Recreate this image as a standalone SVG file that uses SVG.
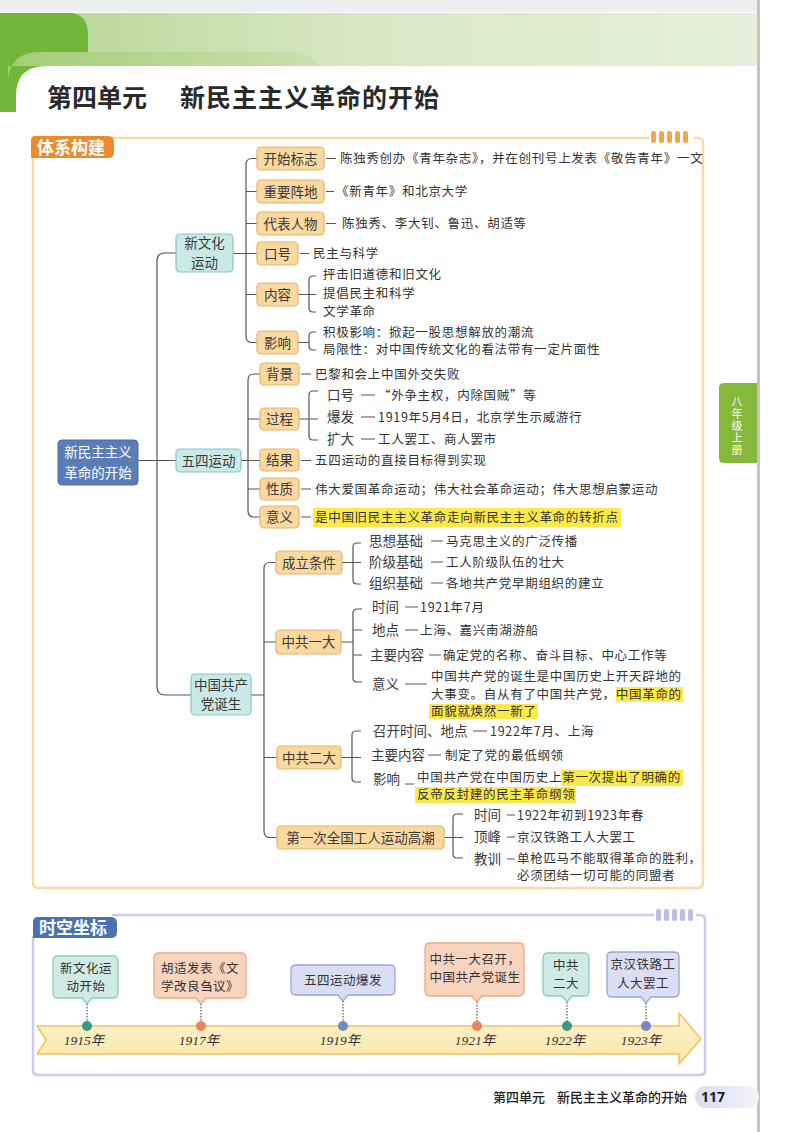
<svg xmlns="http://www.w3.org/2000/svg" width="800" height="1132" viewBox="0 0 800 1132">
<defs>
<linearGradient id="hdr" x1="0" y1="0" x2="1" y2="0"><stop offset="0" stop-color="#b5d592"/><stop offset="0.5" stop-color="#d9e9c6"/><stop offset="1" stop-color="#e5efd9"/></linearGradient>
<linearGradient id="tab2" x1="0" y1="0" x2="1" y2="0"><stop offset="0" stop-color="#a4cd78"/><stop offset="1" stop-color="#c9e0ad"/></linearGradient>
<linearGradient id="band" x1="0" y1="0" x2="0" y2="1"><stop offset="0" stop-color="#fdf3cf"/><stop offset="1" stop-color="#fbe6a8"/></linearGradient>
<linearGradient id="pill" x1="0" y1="0" x2="1" y2="0"><stop offset="0" stop-color="#dcdcf2"/><stop offset="1" stop-color="#f4f4fb"/></linearGradient>
<style>
.nd{fill:#fad9a1;stroke:#e4b36c;stroke-width:1.2}
.tl{fill:#cbe9e6;stroke:#86c7c2;stroke-width:1.2}
.rt{fill:#5b7db5;stroke:#4d6ea6;stroke-width:1}
.lb{font-family:"Noto Sans CJK SC","Noto Sans",sans-serif;font-size:13.5px;fill:#3a3a3a}
.lc{font-family:"Noto Sans CJK SC","Noto Sans",sans-serif;font-size:13.5px;fill:#3a3a3a;text-anchor:middle}
.tx{font-family:"Noto Sans CJK SC","Noto Sans",sans-serif;font-size:12.5px;letter-spacing:0.7px;fill:#333}
.cx{font-family:"Noto Sans CJK SC","Noto Sans",sans-serif;font-size:12.5px;letter-spacing:0.5px;fill:#333;text-anchor:middle}
.yr{font-family:"Liberation Serif","Noto Sans CJK SC",serif;font-style:italic;font-size:13.5px;fill:#333;text-anchor:middle}
.cn{fill:none;stroke:#555;stroke-width:1.2}
.ds{fill:none;stroke:#555;stroke-width:1}
.dt{fill:none;stroke:#555;stroke-width:1.2;stroke-dasharray:1.5 1.5}
.hl{fill:#fbe94a}
.ob{fill:#f1a84a}
.pb{fill:#b9bde6}
</style>
</defs>
<rect width="800" height="1132" fill="#ffffff"/>
<rect x="0" y="0" width="760" height="12" fill="#eef0ef"/>
<!-- header -->
<rect x="0" y="13" width="757" height="55" fill="url(#hdr)"/>
<path d="M0,13 H68 Q88,13 88,35 V112 H0 Z" fill="#72b63a"/>
<path d="M8,112 V84 Q8,52 40,52 H292 Q310,52 320,66 H8 Z" fill="url(#tab2)"/>
<path d="M16,120 V96 Q16,66 46,66 H757 V120 Z" fill="#ffffff"/>
<text x="47" y="107" font-family="Noto Sans CJK SC, sans-serif" font-size="25" font-weight="bold" fill="#2a2a2a">第四单元</text>
<text x="180" y="107" font-family="Noto Sans CJK SC, sans-serif" font-size="25" font-weight="bold" fill="#2a2a2a" letter-spacing="1">新民主主义革命的开始</text>
<rect x="757" y="0" width="3" height="1132" fill="#c4c4c4"/>
<!-- side tab -->
<g id="side-tab">
<path d="M724,383 H757 V463 H724 Q719,463 719,458 V388 Q719,383 724,383 Z" fill="#86b83c"/>
<text x="737" y="396" font-family="Noto Sans CJK SC, sans-serif" font-size="11" letter-spacing="1" fill="#ffffff" writing-mode="tb" style="writing-mode:vertical-rl">八年级上册</text>
</g>
<!-- section frame 1 -->
<g id="frame-system">
<path d="M110,138 H698 Q703,138 703,143 V883 Q703,888 698,888 H38 Q33,888 33,883 V156" fill="none" stroke="#f6dba6" stroke-width="2.5"/>
<rect x="650" y="131" width="44" height="13" fill="#ffffff"/>
<rect x="651" y="131" width="5" height="12" rx="2.5" class="ob"/>
<rect x="659" y="131" width="5" height="12" rx="2.5" class="ob"/>
<rect x="667" y="131" width="5" height="12" rx="2.5" class="ob"/>
<rect x="675" y="131" width="5" height="12" rx="2.5" class="ob"/>
<rect x="683" y="131" width="5" height="12" rx="2.5" class="ob"/>
<path d="M35,136 H108 Q114,136 114,142 V152 Q114,158 108,158 H31 V140 Q31,136 35,136 Z" fill="#ec8a2c"/>
<text x="37" y="154" font-family="Noto Sans CJK SC, sans-serif" font-size="17" font-weight="bold" fill="#ffffff">体系构建</text>
</g>
<!-- connectors -->
<g id="connectors">
<path class="cn" d="M137,460.5 H176"/>
<path class="cn" d="M176,253 H165 Q157,253 157,261 V687 Q157,695 165,695 H191"/>
<path class="cn" d="M257,158.5 H252 Q246,158.5 246,164.5 V336 Q246,342.5 252,342.5 H257"/>
<path class="cn" d="M246,191.5 H257 M246,223.5 H257 M233,253.5 H257 M246,294.5 H257"/>
<path class="cn" d="M260,374 H254 Q248,374 248,380 V511 Q248,517 254,517 H260"/>
<path class="cn" d="M248,419 H260 M241,460.5 H260 M248,489 H260"/>
<path class="cn" d="M276,562.5 H270 Q264,562.5 264,568.5 V831 Q264,837.5 270,837.5 H277"/>
<path class="cn" d="M251,695 H264 M264,642 H276 M264,757.5 H277"/>
<!-- brackets -->
<path class="cn" d="M298,294.5 H316 M316,276 H313 Q309,276 309,280 V308 Q309,312 313,312 H316"/>
<path class="cn" d="M298,342.5 H309 M316,332 H313 Q309,332 309,336 V346 Q309,350 313,350 H316"/>
<path class="cn" d="M299,419 H318 M318,391 H313 Q309,391 309,395 V436 Q309,440 313,440 H318"/>
<path class="cn" d="M342,562.5 H361 M361,543 H357 Q353,543 353,547 V580 Q353,584 357,584 H361"/>
<path class="cn" d="M341,642 H353 M362,609 H357 Q353,609 353,613 V678 Q353,682 357,682 H362 M353,630 H362 M353,655 H362"/>
<path class="cn" d="M341,757.5 H361 M361,731 H356 Q352,731 352,735 V778 Q352,782 356,782 H361"/>
<path class="cn" d="M444,837.5 H463 M463,814 H457 Q453,814 453,818 V854 Q453,858 457,858 H463"/>
<!-- short dashes -->
<path class="ds" d="M326,158.5 H336 M326,191.5 H334 M326,223.5 H336 M300,253.5 H309"/>
<path class="ds" d="M301,374 H311 M301,460.5 H311 M301,489 H311 M301,517 H311"/>
<path class="ds" d="M361,395 H375 M361,417 H375 M361,439 H375"/>
<path class="ds" d="M431,541 H443 M431,562 H443 M431,583 H443"/>
<path class="ds" d="M405,607 H418 M405,630 H418 M429,655 H441 M405,684 H427"/>
<path class="ds" d="M473,731 H487 M428,755 H441 M405,784 H414"/>
<path class="ds" d="M507,815 H515 M507,837 H515 M507,859 H515"/>
</g>
<!-- root -->
<g id="root">
<rect x="58" y="440" width="80" height="45" rx="4" class="rt"/>
<text x="98" y="457" class="lc" style="fill:#ffffff">新民主主义</text>
<text x="98" y="478" class="lc" style="fill:#ffffff">革命的开始</text>
</g>
<!-- level 1 -->
<g id="n-xwh"><rect x="176" y="234" width="57" height="38" rx="4" class="tl"/><text x="204.5" y="248" class="lc">新文化</text><text x="204.5" y="267.5" class="lc">运动</text></g>
<g id="n-wusi"><rect x="176" y="449" width="65" height="23" rx="4" class="tl"/><text x="208.5" y="465.5" class="lc">五四运动</text></g>
<g id="n-zggcd"><rect x="191" y="674" width="60" height="41" rx="4" class="tl"/><text x="221" y="690" class="lc">中国共产</text><text x="221" y="709" class="lc">党诞生</text></g>
<!-- 新文化 children -->
<g id="n-ksbz"><rect x="257" y="147" width="67" height="23" rx="4" class="nd"/><text x="290.5" y="163.5" class="lc">开始标志</text><text x="340" y="163" class="tx">陈独秀创办《青年杂志》，并在创刊号上发表《敬告青年》一文</text></g>
<g id="n-zyzd"><rect x="257" y="180" width="67" height="23" rx="4" class="nd"/><text x="290.5" y="196.5" class="lc">重要阵地</text><text x="336" y="196" class="tx">《新青年》和北京大学</text></g>
<g id="n-dbrw"><rect x="257" y="212" width="67" height="23" rx="4" class="nd"/><text x="290.5" y="228.5" class="lc">代表人物</text><text x="342" y="228" class="tx">陈独秀、李大钊、鲁迅、胡适等</text></g>
<g id="n-kh"><rect x="257" y="242" width="41" height="23" rx="4" class="nd"/><text x="277.5" y="258.5" class="lc">口号</text><text x="313" y="258" class="tx">民主与科学</text></g>
<g id="n-nr"><rect x="257" y="283" width="41" height="23" rx="4" class="nd"/><text x="277.5" y="299.5" class="lc">内容</text>
<text x="323" y="279" class="tx">抨击旧道德和旧文化</text><text x="323" y="298" class="tx">提倡民主和科学</text><text x="323" y="316" class="tx">文学革命</text></g>
<g id="n-yx"><rect x="257" y="331" width="41" height="23" rx="4" class="nd"/><text x="277.5" y="347.5" class="lc">影响</text>
<text x="323" y="337" class="tx">积极影响：掀起一股思想解放的潮流</text><text x="323" y="354" class="tx">局限性：对中国传统文化的看法带有一定片面性</text></g>
<!-- 五四 children -->
<g id="n-bj"><rect x="260" y="363" width="39" height="22" rx="4" class="nd"/><text x="279.5" y="379" class="lc">背景</text><text x="315" y="379" class="tx">巴黎和会上中国外交失败</text></g>
<g id="n-gc"><rect x="260" y="408" width="39" height="22" rx="4" class="nd"/><text x="279.5" y="424" class="lc">过程</text>
<text x="327" y="400" class="lb">口号</text><text x="378" y="400" class="tx">“外争主权，内除国贼”等</text>
<text x="327" y="422" class="lb">爆发</text><text x="378" y="422" class="tx">1919年5月4日，北京学生示威游行</text>
<text x="327" y="444" class="lb">扩大</text><text x="378" y="444" class="tx">工人罢工、商人罢市</text></g>
<g id="n-jg"><rect x="260" y="449" width="39" height="22" rx="4" class="nd"/><text x="279.5" y="465" class="lc">结果</text><text x="315" y="465" class="tx">五四运动的直接目标得到实现</text></g>
<g id="n-xz"><rect x="260" y="478" width="39" height="22" rx="4" class="nd"/><text x="279.5" y="494" class="lc">性质</text><text x="315" y="494" class="tx">伟大爱国革命运动；伟大社会革命运动；伟大思想启蒙运动</text></g>
<g id="n-yy"><rect x="260" y="506" width="39" height="22" rx="4" class="nd"/><text x="279.5" y="522" class="lc">意义</text><rect x="313" y="508" width="308" height="19" class="hl"/><text x="315" y="522" class="tx">是中国旧民主主义革命走向新民主主义革命的转折点</text></g>
<!-- 中共 children -->
<g id="n-cltj"><rect x="276" y="551" width="66" height="23" rx="4" class="nd"/><text x="309" y="567.5" class="lc">成立条件</text>
<text x="369" y="546" class="lb">思想基础</text><text x="446" y="546" class="tx">马克思主义的广泛传播</text>
<text x="369" y="567" class="lb">阶级基础</text><text x="446" y="567" class="tx">工人阶级队伍的壮大</text>
<text x="369" y="588" class="lb">组织基础</text><text x="446" y="588" class="tx">各地共产党早期组织的建立</text></g>
<g id="n-zgyd"><rect x="276" y="630" width="65" height="24" rx="4" class="nd"/><text x="308.5" y="647" class="lc">中共一大</text>
<text x="372" y="612" class="lb">时间</text><text x="420" y="612" class="tx">1921年7月</text>
<text x="372" y="635" class="lb">地点</text><text x="420" y="635" class="tx">上海、嘉兴南湖游船</text>
<text x="370" y="660" class="lb">主要内容</text><text x="443" y="660" class="tx">确定党的名称、奋斗目标、中心工作等</text>
<text x="372" y="689" class="lb">意义</text>
<rect x="616" y="687" width="67" height="15" class="hl"/><rect x="429" y="704" width="109" height="15" class="hl"/>
<text x="431" y="681" class="tx">中国共产党的诞生是中国历史上开天辟地的</text>
<text x="431" y="699" class="tx">大事变。自从有了中国共产党，中国革命的</text>
<text x="431" y="716" class="tx">面貌就焕然一新了</text></g>
<g id="n-zged"><rect x="277" y="746" width="64" height="23" rx="4" class="nd"/><text x="309" y="762.5" class="lc">中共二大</text>
<text x="373" y="736" class="lb">召开时间、地点</text><text x="490" y="736" class="tx">1922年7月、上海</text>
<text x="371" y="760" class="lb">主要内容</text><text x="445" y="760" class="tx">制定了党的最低纲领</text>
<text x="373" y="784" class="lb">影响</text>
<rect x="561" y="770" width="122" height="16" class="hl"/><rect x="415" y="787" width="161" height="16" class="hl"/>
<text x="417" y="782" class="tx">中国共产党在中国历史上第一次提出了明确的</text>
<text x="417" y="799" class="tx">反帝反封建的民主革命纲领</text></g>
<g id="n-gryd"><rect x="277" y="826" width="167" height="23" rx="4" class="nd"/><text x="360.5" y="842.5" class="lc">第一次全国工人运动高潮</text>
<text x="474" y="820" class="lb">时间</text><text x="517" y="820" class="tx">1922年初到1923年春</text>
<text x="474" y="842" class="lb">顶峰</text><text x="517" y="842" class="tx">京汉铁路工人大罢工</text>
<text x="474" y="864" class="lb">教训</text><text x="517" y="863" class="tx">单枪匹马不能取得革命的胜利，</text>
<text x="517" y="880" class="tx">必须团结一切可能的同盟者</text></g>
<!-- timeline frame -->
<g id="frame-timeline">
<path d="M112,915 H700 Q705,915 705,920 V1070 Q705,1075 700,1075 H38 Q33,1075 33,1070 V936" fill="none" stroke="#c9cbea" stroke-width="2.5"/>
<rect x="654" y="908" width="42" height="14" fill="#ffffff"/>
<rect x="656" y="909" width="5" height="12" rx="2.5" class="pb"/>
<rect x="664" y="909" width="5" height="12" rx="2.5" class="pb"/>
<rect x="672" y="909" width="5" height="12" rx="2.5" class="pb"/>
<rect x="680" y="909" width="5" height="12" rx="2.5" class="pb"/>
<rect x="688" y="909" width="5" height="12" rx="2.5" class="pb"/>
<path d="M38,917 H111 Q117,917 117,923 V932 Q117,938 111,938 H33 V922 Q33,917 38,917 Z" fill="#4a71b0"/>
<text x="39" y="934" font-family="Noto Sans CJK SC, sans-serif" font-size="17" font-weight="bold" fill="#ffffff">时空坐标</text>
</g>
<g id="timeline-band">
<path d="M37,1026 H679 V1013 L701,1039 L679,1064 V1054 H37 L46,1040 Z" fill="url(#band)" stroke="#f0c25c" stroke-width="1.5" stroke-linejoin="round"/>
</g>
<g id="timeline-connectors">
<path class="dt" d="M87,1004 V1021 M201,1004 V1021 M343,1001 V1021 M477,1002 V1021 M567,1002 V1021 M646,1003 V1021"/>
</g>
<g id="t1915"><path d="M58,956 H113 Q118,956 118,961 V993 Q118,998 113,998 H92 L87,1004 L82,998 H58 Q53,998 53,993 V961 Q53,956 58,956 Z" fill="#d0ebe5" stroke="#8fcabc" stroke-width="1.3"/>
<text x="86" y="973" class="cx">新文化运</text><text x="86" y="991" class="cx">动开始</text>
<circle cx="87" cy="1026" r="5" fill="#3a9a80"/><text x="84" y="1045" class="yr">1915年</text></g>
<g id="t1917"><path d="M159,953 H241 Q246,953 246,958 V993 Q246,998 241,998 H206 L201,1004 L196,998 H159 Q154,998 154,993 V958 Q154,953 159,953 Z" fill="#f8d4bf" stroke="#f0a887" stroke-width="1.3"/>
<text x="200" y="973" class="cx">胡适发表《文</text><text x="200" y="991" class="cx">学改良刍议》</text>
<circle cx="201" cy="1026" r="5" fill="#e8865a"/><text x="199" y="1045" class="yr">1917年</text></g>
<g id="t1919"><path d="M296,965 H390 Q395,965 395,970 V990 Q395,995 390,995 H348 L343,1001 L338,995 H296 Q291,995 291,990 V970 Q291,965 296,965 Z" fill="#d9def2" stroke="#98a6d6" stroke-width="1.3"/>
<text x="343" y="985" class="cx">五四运动爆发</text>
<circle cx="343" cy="1026" r="5" fill="#6a8cc0"/><text x="340" y="1045" class="yr">1919年</text></g>
<g id="t1921"><path d="M430,943 H519 Q524,943 524,948 V991 Q524,996 519,996 H482 L477,1002 L472,996 H430 Q425,996 425,991 V948 Q425,943 430,943 Z" fill="#f8d4bf" stroke="#f0a887" stroke-width="1.3"/>
<text x="475" y="964" class="cx">中共一大召开，</text><text x="475" y="982" class="cx">中国共产党诞生</text>
<circle cx="477" cy="1026" r="5" fill="#e8865a"/><text x="475" y="1045" class="yr">1921年</text></g>
<g id="t1922"><path d="M548,953 H584 Q589,953 589,958 V991 Q589,996 584,996 H572 L567,1002 L562,996 H548 Q543,996 543,991 V958 Q543,953 548,953 Z" fill="#d0ebe5" stroke="#8fcabc" stroke-width="1.3"/>
<text x="566" y="970" class="cx">中共</text><text x="566" y="988" class="cx">二大</text>
<circle cx="567" cy="1026" r="5" fill="#3a9a80"/><text x="565" y="1045" class="yr">1922年</text></g>
<g id="t1923"><path d="M612,952 H674 Q679,952 679,957 V992 Q679,997 674,997 H651 L646,1003 L641,997 H612 Q607,997 607,992 V957 Q607,952 612,952 Z" fill="#dcdff3" stroke="#98a6d6" stroke-width="1.3"/>
<text x="643" y="969" class="cx">京汉铁路工</text><text x="643" y="988" class="cx">人大罢工</text>
<circle cx="646" cy="1026" r="5" fill="#7a84c4"/><text x="641" y="1045" class="yr">1923年</text></g>
<!-- footer -->
<g id="footer">
<rect x="695" y="1086" width="64" height="22" rx="11" fill="url(#pill)"/>
<text x="493" y="1102" font-family="Noto Sans CJK SC, sans-serif" font-size="13" font-weight="500" fill="#222">第四单元</text>
<text x="557" y="1102" font-family="Noto Sans CJK SC, sans-serif" font-size="13" font-weight="500" fill="#222">新民主主义革命的开始</text>
<text x="701" y="1102" font-family="Noto Sans, sans-serif" font-size="14" font-weight="bold" fill="#222">117</text>
</g>
</svg>
